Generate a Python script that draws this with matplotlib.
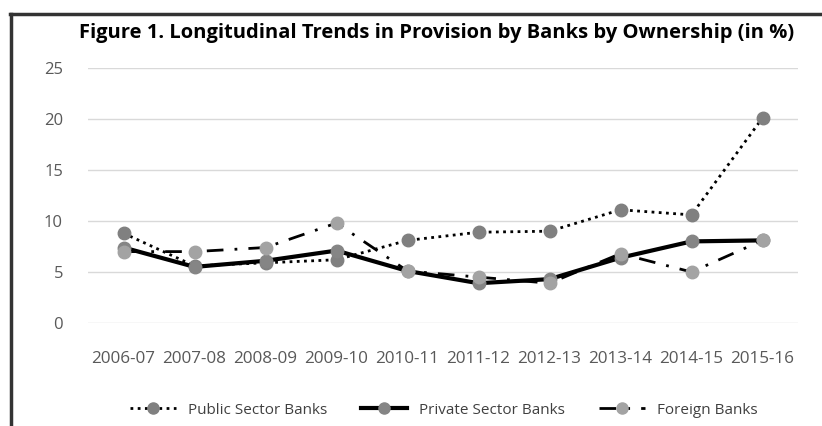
import matplotlib
matplotlib.use("Agg")
from matplotlib import pyplot as plt
from matplotlib.lines import Line2D

years = ["2006-07", "2007-08", "2008-09", "2009-10", "2010-11",
         "2011-12", "2012-13", "2013-14", "2014-15", "2015-16"]
public = [8.8, 5.6, 5.9, 6.2, 8.1, 8.9, 9.0, 11.1, 10.6, 20.1]
private = [7.4, 5.5, 6.1, 7.1, 5.1, 3.9, 4.3, 6.4, 8.0, 8.1]
foreign = [7.0, 7.0, 7.4, 9.8, 5.1, 4.5, 3.9, 6.8, 5.0, 8.1]
yticks = [0, 5, 10, 15, 20, 25]

plt.rcParams["font.family"] = ["Open Sans", "DejaVu Sans"]

fig = plt.figure(figsize=(8.22, 4.26), dpi=100, facecolor="white")
ax = fig.add_axes([88 / 822, 1 - 323 / 426, 710 / 822, 255 / 426])

x = list(range(len(years)))
ax.plot(x, public, color="black", lw=2, linestyle=(0, (1, 1.6)),
        marker="o", ms=9, mfc="#808080", mec="#808080", zorder=3,
        label="Public Sector Banks")
ax.plot(x, private, color="black", lw=3, linestyle="-",
        marker="o", ms=9, mfc="#858585", mec="#858585", zorder=4,
        label="Private Sector Banks")
ax.plot(x, foreign, color="black", lw=2, linestyle=(0, (6, 4, 1, 4)),
        marker="o", ms=9, mfc="#a3a3a3", mec="#a3a3a3", zorder=5,
        label="Foreign Banks")

ax.set_xlim(-0.5, 9.5)
ax.set_ylim(0, 25)
ax.set_yticks(yticks)
ax.set_xticks(x)
ax.set_xticklabels(years)
ax.grid(axis="y", color="#d9d9d9", lw=1)
ax.set_axisbelow(True)
for s in ax.spines.values():
    s.set_visible(False)
ax.tick_params(length=0, labelsize=12, colors="#595959")
ax.tick_params(axis="x", pad=20, labelsize=12.3)
ax.tick_params(axis="y", pad=18)

fig.text(0.531, 0.922, "Figure 1. Longitudinal Trends in Provision by Banks by Ownership (in %)",
         ha="center", va="center", fontsize=14.5, fontweight="bold", color="black")

handles = [
    Line2D([], [], color="black", lw=2, linestyle=(0, (1, 1.6)), marker="o", ms=8,
           mfc="#808080", mec="#808080"),
    Line2D([], [], color="black", lw=3, marker="o", ms=8, mfc="#858585", mec="#858585"),
    Line2D([], [], color="black", lw=2, linestyle=(0, (6, 4, 1, 4)), marker="o", ms=8,
           mfc="#a3a3a3", mec="#a3a3a3"),
]
fig.legend(handles, ["Public Sector Banks", "Private Sector Banks", "Foreign Banks"],
           loc="center", bbox_to_anchor=(0.54, 0.037), ncol=3, frameon=False,
           fontsize=11, labelcolor="#404040", handlelength=3.0, columnspacing=2.2)

# frame around the figure (left and top edges visible in the reference)
fig.add_artist(Line2D([11 / 822, 11 / 822], [0, 1 - 14 / 426], color="#333333", lw=2.5,
                      transform=fig.transFigure))
fig.add_artist(Line2D([10 / 822, 1], [1 - 14 / 426, 1 - 14 / 426], color="#333333", lw=2.5,
                      transform=fig.transFigure))

fig.savefig("out.png", dpi=100, facecolor="white")
